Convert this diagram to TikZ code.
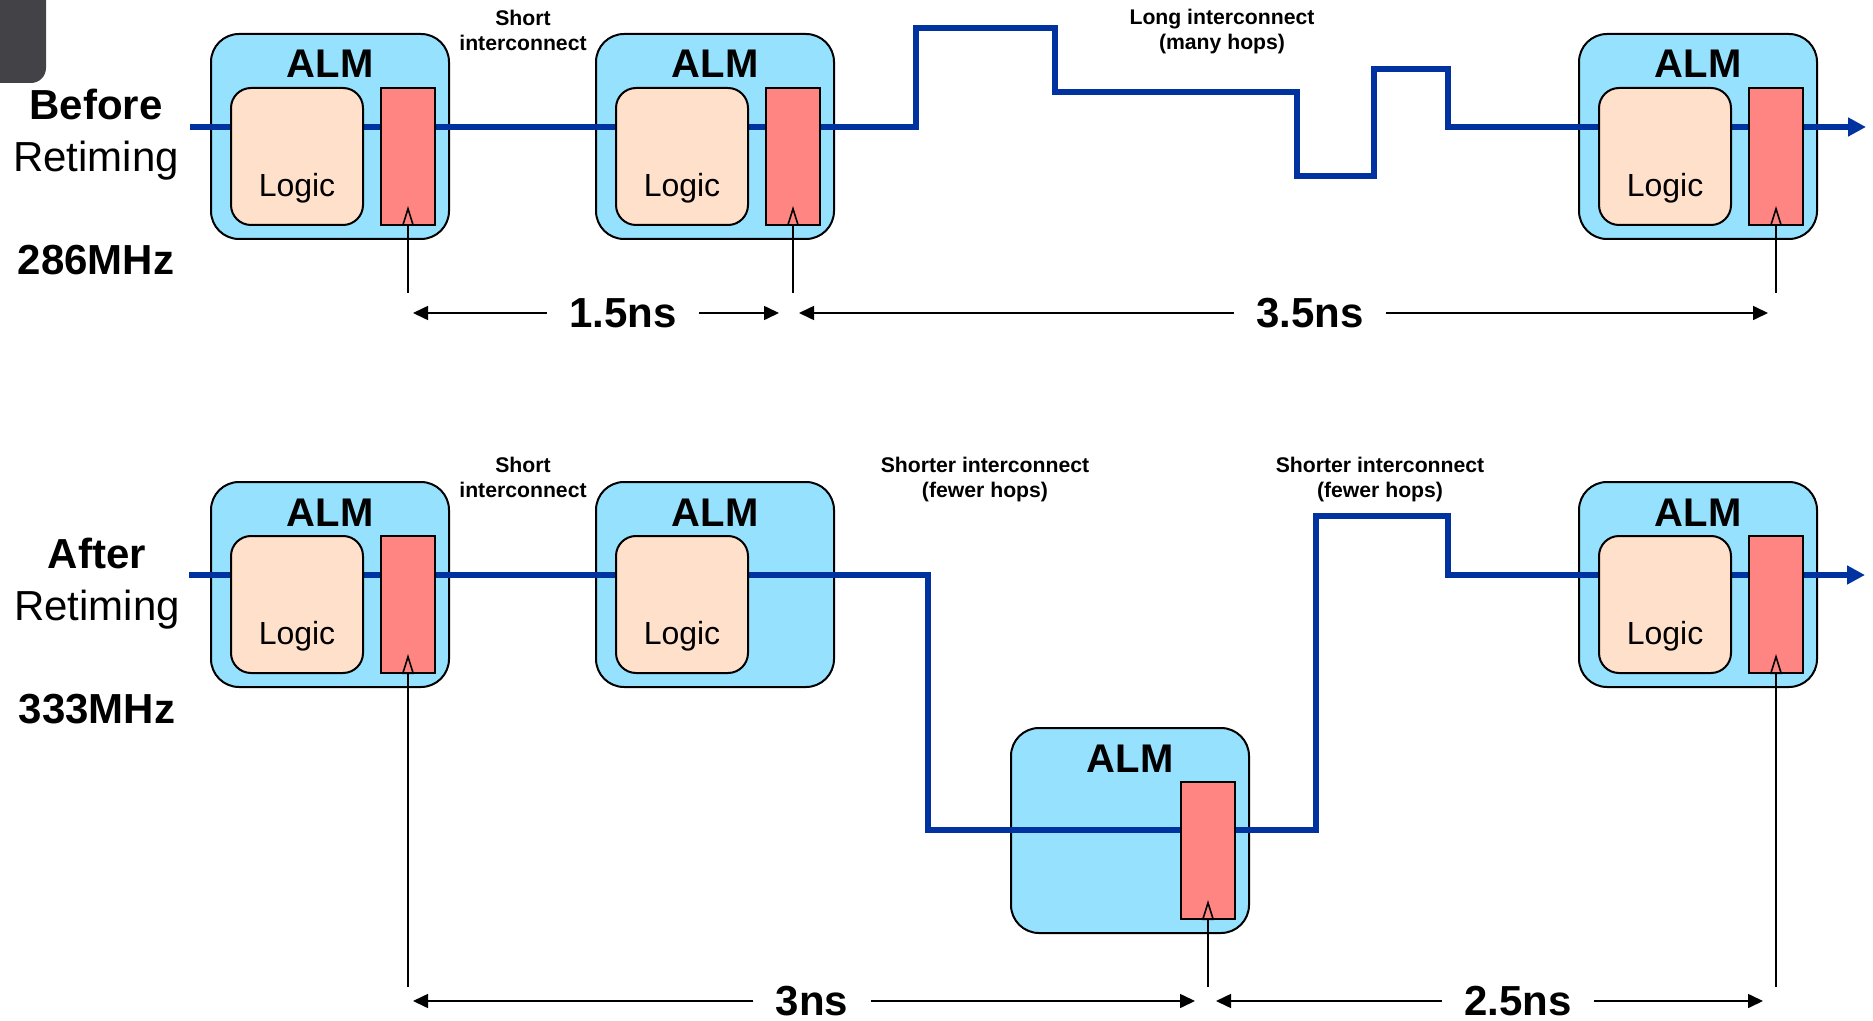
\documentclass[tikz,border=0pt]{standalone}
\usepackage{fontspec}
\setmainfont{Liberation Sans}
\usetikzlibrary{arrows.meta,positioning}
\definecolor{almfill}{HTML}{96E2FE}
\definecolor{logicfill}{HTML}{FFE0CB}
\definecolor{regfill}{HTML}{FF8583}
\definecolor{wireblue}{HTML}{0033A0}
\definecolor{slidegrey}{HTML}{434347}

\tikzset{
  alm/.style={draw,line width=1pt,fill=almfill,rounded corners=14pt,
    minimum width=119pt,minimum height=102.5pt,inner sep=0pt,
    label={[anchor=base,yshift=-22.5pt,font=\fontsize{20}{24}\selectfont\bfseries]north:ALM}},
  logicbox/.style={draw,line width=1pt,fill=logicfill,rounded corners=10pt,
    minimum width=66pt,minimum height=68.5pt,inner sep=0pt,
    label={[yshift=-16pt,font=\fontsize{16}{19}\selectfont]center:Logic}},
  regbox/.style={draw,line width=1pt,fill=regfill,minimum width=27pt,
    minimum height=68.5pt,inner sep=0pt},
  wire/.style={draw=wireblue,line width=3.3pt},
  clk/.style={line width=0.8pt,-{Triangle[open,length=10pt,width=6pt]}},
  dim/.style={line width=0.8pt,-{Triangle[length=7.5pt,width=7pt]}},
  dimlabel/.style={font=\fontsize{21}{25}\selectfont\bfseries,inner xsep=11pt,inner ysep=0pt},
  rowbold/.style={font=\fontsize{21}{25}\selectfont\bfseries,anchor=base},
  rowplain/.style={font=\fontsize{21}{25}\selectfont,anchor=base},
  note/.style={font=\fontsize{10.6}{12.5}\selectfont\bfseries,align=center,inner sep=0pt}
}

\begin{document}
\begin{tikzpicture}[x=0.5pt,y=-0.5pt]
  \useasboundingbox (0,0) rectangle (1873,1021);
  % corner of the slide behind
  \fill[slidegrey,rounded corners=7.5pt] (-40,-40) rectangle (46,83);

  % row captions
  \node[rowbold] (bef) at (96,120) {Before};
  \node[rowplain] (bret) at (96,172) {Retiming};
  \node[rowbold] (bfreq) at (96,275) {286MHz};
  \node[rowbold] (aft) at (97,568) {After};
  \node[rowplain] (aret) at (97,620) {Retiming};
  \node[rowbold] (afreq) at (97,723) {333MHz};

  % ALM shells
  \node[alm] (a1) at (330,136.5) {};
  \node[alm] (a2) at (715,136.5) {};
  \node[alm] (a3) at (1698,136.5) {};
  \node[alm] (b1) at (330,584.5) {};
  \node[alm] (b2) at (715,584.5) {};
  \node[alm] (bm) at (1130,830.5) {};
  \node[alm] (b3) at (1698,584.5) {};

  % routing
  \coordinate (ws1) at (190,127);
  \coordinate (we1) at (1866,127);
  \coordinate (ws2) at (189,575);
  \coordinate (we2) at (1865,575);
  \draw[wire,-{Triangle[length=9pt,width=9pt]}] (ws1) -| (916,28) -| (1055,92)
    -| (1297,176) -| (1374,69) -| (1448,127) -- (we1);
  \draw[wire,-{Triangle[length=9pt,width=9pt]}] (ws2) -| (928,830) -| (1316,516)
    -| (1448,575) -- (we2);

  % logic and registers inside the ALMs
  \foreach \a in {a1,a2,a3,b1,b2,b3}
    \node[logicbox,below right=27pt and 10pt of \a.north west] (l-\a) {};
  \foreach \a in {a1,a2,a3,b1,bm,b3}
    \node[regbox,below right=27pt and 85pt of \a.north west] (r-\a) {};

  % clock inputs
  \foreach \a/\yb in {a1/293,a2/293,a3/293,b1/987,bm/987,b3/987}
    \draw[clk] (r-\a.south |- 0,\yb) -- ([yshift=10pt]r-\a.south);

  % path delays
  \foreach \n/\t/\xc/\yc/\xl/\xr in {d1/1.5ns/623/313/413/779,d2/3.5ns/1310/313/799/1768,
      d3/3ns/812/1001/413/1195,d4/2.5ns/1518/1001/1216/1763}{
    \node[dimlabel] (\n) at (\xc,\yc) {\t};
    \coordinate (\n-l) at (\xl,\yc);
    \coordinate (\n-r) at (\xr,\yc);
    \draw[dim] (\n.west) -- (\n-l);
    \draw[dim] (\n.east) -- (\n-r);
  }

  % interconnect notes
  \node[note] (n1) at (523,30) {Short\\interconnect};
  \node[note] (n2) at (1222,32) {Long interconnect\\(many hops)};
  \node[note] (n3) at (523,477.5) {Short\\interconnect};
  \node[note] (n4) at (985,480) {Shorter interconnect\\(fewer hops)};
  \node[note] (n5) at (1380,480) {Shorter interconnect\\(fewer hops)};
\end{tikzpicture}
\end{document}
